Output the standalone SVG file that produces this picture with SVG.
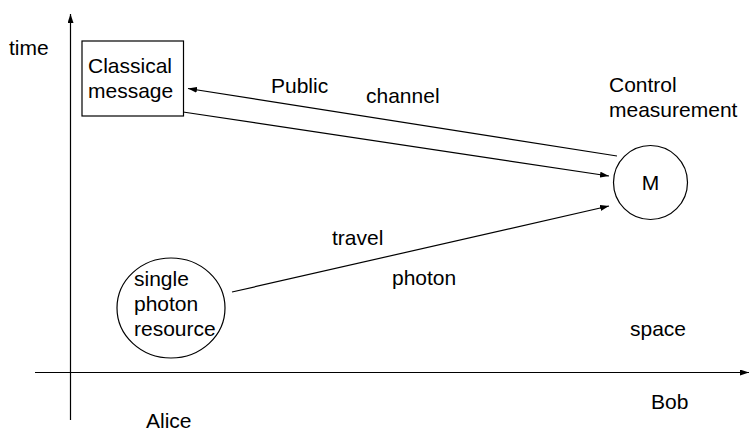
<svg xmlns="http://www.w3.org/2000/svg" width="750" height="434" viewBox="0 0 750 434">
<defs>
<marker id="ah" markerWidth="9" markerHeight="6" refX="9" refY="3" orient="auto" markerUnits="userSpaceOnUse">
<path d="M0,0 L9,3 L0,6 z" fill="#000"/>
</marker>
</defs>
<style>
text{font-family:"Liberation Sans",Arial,sans-serif;font-size:21px;fill:#000}
.ln{stroke:#000;stroke-width:1.2;fill:none}
.nd{stroke:#000;stroke-width:1.2;fill:#fff}
</style>
<rect width="750" height="434" fill="#fff"/>
<g id="axes">
<line class="ln" x1="70.5" y1="420" x2="70.5" y2="14" marker-end="url(#ah)"/>
<line class="ln" x1="35" y1="372.5" x2="749" y2="372.5" marker-end="url(#ah)"/>
</g>
<g id="connectors">
<line class="ln" x1="617" y1="156" x2="188" y2="88.5" marker-end="url(#ah)"/>
<line class="ln" x1="183" y1="112" x2="609" y2="176" marker-end="url(#ah)"/>
<line class="ln" x1="232" y1="292" x2="609" y2="206" marker-end="url(#ah)"/>
</g>
<g id="classical">
<rect class="nd" x="82" y="41" width="101.5" height="75"/>
<text x="88" y="73">Classical</text>
<text x="88" y="98">message</text>
</g>
<g id="measure">
<circle class="nd" cx="650.5" cy="182.5" r="37"/>
<text x="650.5" y="190" text-anchor="middle">M</text>
</g>
<g id="source">
<ellipse class="nd" cx="171" cy="308" rx="54" ry="50"/>
<text x="134" y="286">single</text>
<text x="134" y="311">photon</text>
<text x="134" y="336">resource</text>
</g>
<g id="labels">
<text x="9" y="55">time</text>
<text x="609" y="92">Control</text>
<text x="609" y="117">measurement</text>
<text x="271" y="93">Public</text>
<text x="366" y="103">channel</text>
<text x="332" y="245">travel</text>
<text x="392" y="285">photon</text>
<text x="630" y="336">space</text>
<text x="651" y="409">Bob</text>
<text x="146" y="428">Alice</text>
</g>
</svg>
